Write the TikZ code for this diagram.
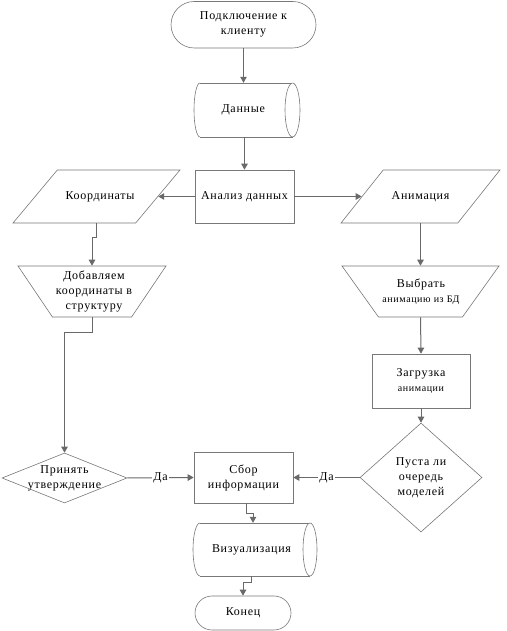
\documentclass[tikz,border=0pt]{standalone}
\usepackage{fontspec}
\setmainfont{Liberation Serif}[LetterSpace=6]
\usetikzlibrary{shapes.geometric,shapes.misc,arrows.meta,calc}
\definecolor{linec}{RGB}{105,105,105}
\definecolor{shapec}{RGB}{120,120,120}
\begin{document}
\begin{tikzpicture}[x=1pt,y=1pt,
  shp/.style={draw=shapec, line width=0.6pt, fill=white},
  txt/.style={font=\fontsize{12}{15}\selectfont, align=center, text=black, inner sep=0pt},
  ln/.style={draw=linec, line width=1pt},
  arr/.style={ln, -{Triangle[length=6pt,width=6.5pt]}},
  lbl/.style={txt, fill=white, inner sep=1.5pt},
  para/.style={shp, trapezium, trapezium stretches=true, trapezium left angle=60.5, trapezium right angle=119.5, minimum height=53pt, inner sep=1pt},
  manop/.style={shp, trapezium, trapezium stretches=true, trapezium left angle=113.5, trapezium right angle=113.5, minimum height=51pt, inner sep=1pt},
  term/.style={shp, rounded rectangle, inner sep=0pt, txt},
  procbox/.style={shp, rectangle, inner sep=0pt, txt},
  dec/.style={shp, diamond, inner sep=1pt}
]
\useasboundingbox (0,0) rectangle (506,631);

% start
\node[term, minimum width=145pt, minimum height=46.5pt] (start) at (243.5,606.25) {Подключение к\\клиенту};

% data cylinder
\node[txt, minimum width=98.5pt, minimum height=54pt] (data) at (243.25,521) {};
\fill[white] (200,548) -- (292.5,548) -- (292.5,494) -- (200,494) arc[start angle=270,end angle=90,x radius=6,y radius=27];
\draw[shapec, line width=0.6pt] (200,548) -- (292.5,548) (200,494) -- (292.5,494);
\draw[shp] (292.5,521) ellipse [x radius=7.5, y radius=27];
\draw[shapec, line width=0.6pt] (200,548) arc[start angle=90,end angle=270,x radius=6,y radius=27];
\node[txt] (dataT) at (data.center) {Данные};

% analysis
\node[procbox, minimum width=99pt, minimum height=53pt] (analysis) at (244.5,434.5) {Анализ данных};

% parallelograms
\node[para, minimum width=167pt] (coord) at (96.5,434.5) {};
\node[txt] (coordT) at (100,434.5) {Координаты};
\node[para, minimum width=159pt] (anim) at (420.5,434.5) {};
\node[txt] (animT) at (420.5,434.5) {Анимация};

% manual operations
\node[manop, minimum width=148pt] (add) at (92,339.5) {};
\node[txt] (addT) at (94,339.5) {Добавляем\\координаты в\\структуру};
\node[manop, minimum width=157pt] (choose) at (420.5,339.5) {};
\node[txt] (chooseT) at (421,339.5) {Выбрать\\{\fontsize{10}{13}\selectfont анимацию из БД}};

% load
\node[procbox, minimum width=98pt, minimum height=54pt] (load) at (421,250) {Загрузка\\{\fontsize{10}{13}\selectfont анимации}};

% decisions
\node[dec, minimum width=122pt, minimum height=109pt] (empty) at (421,153.5) {};
\node[txt] (emptyT) at (421,153.5) {Пуста ли\\очередь\\моделей};
\node[dec, minimum width=125pt, minimum height=50pt] (prin) at (64.5,153) {};
\node[txt] (prinT) at (64.5,153) {Принять\\утверждение};

% sbor
\node[procbox, minimum width=99pt, minimum height=51pt] (sbor) at (243.5,153.5) {Сбор\\информации};

% visualisation cylinder
\node[txt, minimum width=117pt, minimum height=53pt] (vis) at (251.5,81.5) {};
\fill[white] (200,108) -- (310,108) -- (310,55) -- (200,55) arc[start angle=270,end angle=90,x radius=7,y radius=26.5];
\draw[shapec, line width=0.6pt] (200,108) -- (310,108) (200,55) -- (310,55);
\draw[shp] (310,81.5) ellipse [x radius=7, y radius=26.5];
\draw[shapec, line width=0.6pt] (200,108) arc[start angle=90,end angle=270,x radius=7,y radius=26.5];
\node[txt] (visT) at (vis.center) {Визуализация};

% end
\node[term, minimum width=96pt, minimum height=34pt] (end) at (243,18) {Конец};

% connectors
\draw[arr] (start.south) -- (start.south |- data.north);
\draw[arr] (data.south -| analysis.north) -- (analysis.north);
\draw[arr] (analysis.west) -- (coord.right side);
\draw[arr] (analysis.east) -- (anim.left side);
\draw[arr] (coord.center |- coord.bottom side) -- ++(0,-14) -| (add.top side);
\draw[arr] (anim.center |- anim.bottom side) -- (choose.top side);
\draw[arr] (add.bottom side) -- ++(0,-15) -| (prin.north);
\draw[arr] (choose.bottom side) -- (load.north);
\draw[arr] (load.south) -- (empty.north);
\draw[arr] (prin.east) -- node[lbl] (da1) {Да} (sbor.west);
\draw[arr] (empty.west) -- node[lbl] (da2) {Да} (sbor.east);
\draw[arr] ([xshift=3pt]sbor.south) -- ++(0,-10) -| ([xshift=1.5pt]vis.north);
\draw[arr] (vis.south) -- ++(0,-6) -| (end.north);
\end{tikzpicture}
\end{document}
